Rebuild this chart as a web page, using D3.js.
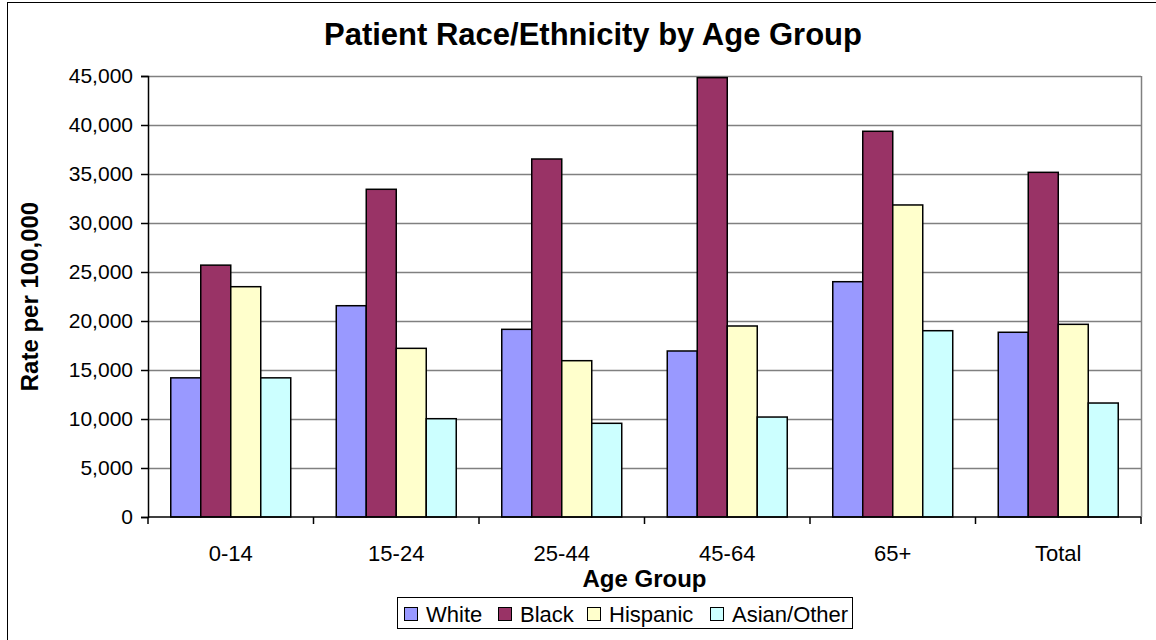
<!DOCTYPE html>
<html>
<head>
<meta charset="utf-8">
<script src="https://cdn.jsdelivr.net/npm/d3@7"></script>
<style>
  html, body { margin: 0; padding: 0; background: #fff; }
  svg { display: block; font-family: "Liberation Sans", Arial, sans-serif; }
</style>
</head>
<body>
<svg id="chart" width="1156" height="640"></svg>
<script>
const categories = ["0-14", "15-24", "25-44", "45-64", "65+", "Total"];
const seriesNames = ["White", "Black", "Hispanic", "Asian/Other"];
const whiteValues = [14200, 21560, 19150, 16940, 24010, 18850];
const blackValues = [25700, 33440, 36530, 44830, 39360, 35170];
const hispanicValues = [23500, 17210, 15950, 19490, 31840, 19660];
const asianValues = [14200, 10030, 9560, 10200, 19010, 11630];
const yTicks = [0, 5000, 10000, 15000, 20000, 25000, 30000, 35000, 40000, 45000];
const colors = ["#9999FF", "#993366", "#FFFFCC", "#CCFFFF"];

const seriesValues = [whiteValues, blackValues, hispanicValues, asianValues];
const data = categories.map((c, i) => ({
  cat: c,
  vals: seriesNames.map((s, j) => ({ series: s, idx: j, value: seriesValues[j][i] }))
}));

const svg = d3.select("#chart");
const pLeft = 148, pRight = 1141, pTop = 76, pBottom = 517;

// outer border
svg.append("rect").attr("x", 7.5).attr("y", 2.5).attr("width", 1170).attr("height", 660)
  .attr("fill", "none").attr("stroke", "#000").attr("stroke-width", 1);

const x0 = d3.scaleBand().domain(categories).range([pLeft, pRight]).paddingInner(0.275).paddingOuter(0.1375);
const x1 = d3.scaleBand().domain(seriesNames).range([0, x0.bandwidth()]).padding(0);
const y = d3.scaleLinear().domain([0, 45000]).range([pBottom, pTop]);

// gridlines
svg.append("g").selectAll("line").data(yTicks.filter(t => t > 0)).join("line")
  .attr("x1", pLeft).attr("x2", pRight)
  .attr("y1", d => Math.round(y(d)) + 0.5).attr("y2", d => Math.round(y(d)) + 0.5)
  .attr("stroke", "#808080").attr("stroke-width", 1.5);

// plot right border
svg.append("line").attr("x1", pRight + 0.5).attr("x2", pRight + 0.5).attr("y1", pTop).attr("y2", pBottom)
  .attr("stroke", "#808080").attr("stroke-width", 1.5);

// bars
const groups = svg.append("g").selectAll("g").data(data).join("g")
  .attr("transform", d => `translate(${x0(d.cat)},0)`);
groups.selectAll("rect").data(d => d.vals).join("rect")
  .attr("x", d => x1(d.series))
  .attr("width", x1.bandwidth())
  .attr("y", d => y(d.value))
  .attr("height", d => y(0) - y(d.value))
  .attr("fill", d => colors[d.idx])
  .attr("stroke", "#000").attr("stroke-width", 1.5);

// y axis
const yAxis = d3.axisLeft(y).tickValues(yTicks).tickSize(7).tickPadding(8)
  .tickFormat(d3.format(","));
const gy = svg.append("g").attr("transform", `translate(${pLeft},0)`).call(yAxis);
gy.select(".domain").attr("stroke", "#000").attr("stroke-width", 1.5);
gy.selectAll(".tick line").attr("stroke", "#000").attr("stroke-width", 1.5);
gy.selectAll(".tick text").attr("font-size", 21).attr("fill", "#000")
  .attr("font-family", "'Liberation Sans', Arial, sans-serif");

// x axis
const gx = svg.append("g").attr("transform", `translate(0,${pBottom})`);
gx.append("line").attr("x1", pLeft).attr("x2", pRight).attr("y1", 0).attr("y2", 0)
  .attr("stroke", "#000").attr("stroke-width", 1.5);
const boundaries = categories.map(c => x0(c) - x0.step() * x0.paddingInner() / 2).concat([pRight]);
boundaries[0] = pLeft;
gx.selectAll("line.tk").data(boundaries).join("line").attr("class", "tk")
  .attr("x1", d => d).attr("x2", d => d).attr("y1", 0).attr("y2", 7)
  .attr("stroke", "#000").attr("stroke-width", 1.5);
gx.selectAll("text").data(categories).join("text")
  .attr("x", d => x0(d) + x0.bandwidth() / 2).attr("y", 44)
  .attr("text-anchor", "middle").attr("font-size", 22).attr("fill", "#000")
  .text(d => d);

// titles
svg.append("text").attr("x", 593).attr("y", 45).attr("text-anchor", "middle")
  .attr("font-size", 31).attr("font-weight", "bold").text("Patient Race/Ethnicity by Age Group");
svg.append("text").attr("x", (pLeft + pRight) / 2).attr("y", 587).attr("text-anchor", "middle")
  .attr("font-size", 24).attr("font-weight", "bold").text("Age Group");
svg.append("text").attr("transform", `translate(38,${(pTop + pBottom) / 2}) rotate(-90)`)
  .attr("text-anchor", "middle").attr("font-size", 24).attr("font-weight", "bold").text("Rate per 100,000");

// legend
const legend = svg.append("g");
legend.append("rect").attr("x", 397.5).attr("y", 597.5).attr("width", 455).attr("height", 31)
  .attr("fill", "#fff").attr("stroke", "#000").attr("stroke-width", 1);
const legendX = [404, 498, 587, 710];
seriesNames.forEach((s, i) => {
  legend.append("rect").attr("x", legendX[i] + 0.5).attr("y", 607.5).attr("width", 13).attr("height", 13)
    .attr("fill", colors[i]).attr("stroke", "#000").attr("stroke-width", 1);
  legend.append("text").attr("x", legendX[i] + 22).attr("y", 622).attr("font-size", 22).text(s);
});
</script>
</body>
</html>
